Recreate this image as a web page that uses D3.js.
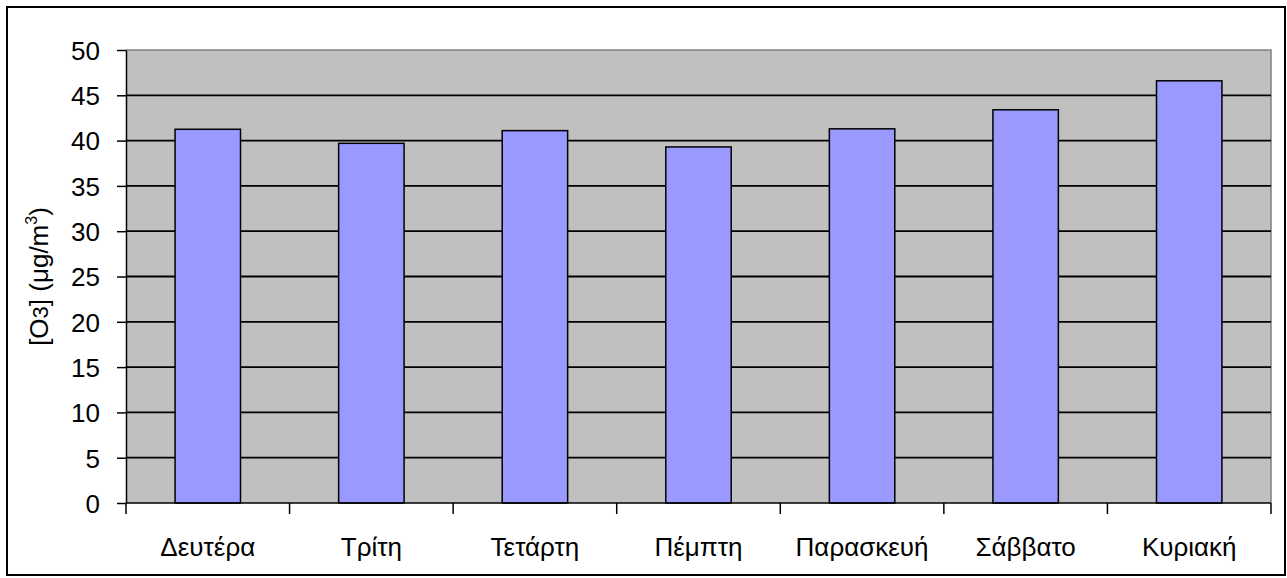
<!DOCTYPE html>
<meta charset="utf-8">
<style>
body { margin: 0; background: #fff; }
text { font-family: "Liberation Sans", Arial, sans-serif; fill: #000; }
.tick text { font-size: 26px; font-family: "Liberation Sans", Arial, sans-serif; }
.domain, .tick line { stroke: #000; stroke-width: 1.5px; }
.grid line { stroke: #000; stroke-width: 1.8px; }
.bar { fill: #9999ff; stroke: #000; stroke-width: 1.5px; }
</style>
<svg width="1287" height="578"></svg>
<script src="https://d3js.org/d3.v7.min.js"></script>
<script>

var days = ["Δευτέρα", "Τρίτη", "Τετάρτη", "Πέμπτη", "Παρασκευή", "Σάββατο", "Κυριακή"];
var o3 = [41.25, 39.7, 41.1, 39.3, 41.3, 43.4, 46.6];
var yTicks = [0, 5, 10, 15, 20, 25, 30, 35, 40, 45, 50];

var svg = d3.select("svg");

// outer frame
svg.append("rect")
    .attr("x", 7).attr("y", 7)
    .attr("width", 1278).attr("height", 568)
    .attr("fill", "none").attr("stroke", "#000").attr("stroke-width", 2);

var plotL = 126, plotR = 1271, plotT = 50, plotB = 503;

var y = d3.scaleLinear().domain([0, 50]).range([plotB, plotT]);
var x = d3.scaleBand().domain(days).range([plotL, plotR]).paddingInner(0.6).paddingOuter(0.3);
var xCat = d3.scaleBand().domain(days).range([plotL, plotR]);

// plot background
svg.append("rect")
    .attr("x", plotL).attr("y", plotT)
    .attr("width", plotR - plotL).attr("height", plotB - plotT)
    .attr("fill", "#c0c0c0");

// grey border on top and right
svg.append("path")
    .attr("d", "M" + plotL + "," + plotT + "H" + plotR + "V" + plotB)
    .attr("fill", "none").attr("stroke", "#808080").attr("stroke-width", 1.5);

// gridlines
svg.append("g").attr("class", "grid")
  .selectAll("line")
  .data(yTicks.slice(1, -1))
  .enter().append("line")
    .attr("x1", plotL).attr("x2", plotR)
    .attr("y1", function(d) { return y(d); })
    .attr("y2", function(d) { return y(d); });

// bars
svg.append("g")
  .selectAll("rect")
  .data(o3)
  .enter().append("rect")
    .attr("class", "bar")
    .attr("x", function(d, i) { return x(days[i]); })
    .attr("width", x.bandwidth())
    .attr("y", function(d) { return y(d); })
    .attr("height", function(d) { return plotB - y(d); });

// y axis
var yAxis = svg.append("g")
    .attr("transform", "translate(" + plotL + ",0)")
    .call(d3.axisLeft(y).tickValues(yTicks).tickSize(9).tickSizeOuter(0).tickPadding(17));
yAxis.selectAll(".tick text").attr("dy", "0.36em");

// x axis: line + ticks at category boundaries
var xg = svg.append("g");
xg.append("line")
    .attr("x1", plotL).attr("x2", plotR)
    .attr("y1", plotB).attr("y2", plotB)
    .attr("stroke", "#000").attr("stroke-width", 1.5);
var bounds = days.map(function(d) { return xCat(d); }).concat([plotR]);
xg.selectAll(".xt")
  .data(bounds)
  .enter().append("line")
    .attr("x1", function(d) { return d; }).attr("x2", function(d) { return d; })
    .attr("y1", plotB).attr("y2", plotB + 11)
    .attr("stroke", "#000").attr("stroke-width", 1.5);
xg.selectAll(".xl")
  .data(days)
  .enter().append("text")
    .attr("x", function(d) { return xCat(d) + xCat.bandwidth() / 2; })
    .attr("y", 556)
    .attr("text-anchor", "middle")
    .style("font-size", "26px")
    .text(function(d) { return d; });

// y axis title
var title = svg.append("text")
    .attr("transform", "translate(48," + ((plotT + plotB) / 2) + ") rotate(-90)")
    .attr("text-anchor", "middle")
    .style("font-size", "26px");
title.append("tspan").text("[O");
title.append("tspan").text("3").style("font-size", "22px");
title.append("tspan").text("] (μg/m");
title.append("tspan").text("3").attr("dy", -11).style("font-size", "16px");
title.append("tspan").text(")").attr("dy", 11);

</script>
